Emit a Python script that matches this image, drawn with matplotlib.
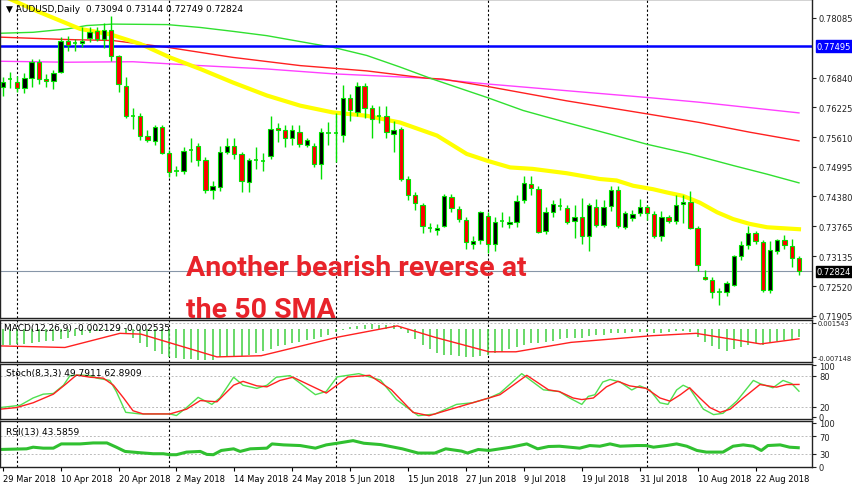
import matplotlib
matplotlib.use("Agg")
import matplotlib.pyplot as plt
import numpy as np

# ---------------- data ----------------
opens = [.7664,.7681,.7676,.7662,.7683,.7716,.7681,.7678,.7695,.7759,.7755,.7755,.7767,.7781,.7764,.7782,.7728,.7667,.7605,.7604,
         .7564,.7553,.7582,.7528,.7490,.7490,.7535,.7543,.7513,.7452,.7457,.7531,.7542,.7525,.7468,.7514,.7511,.7522,.7579,.7575,
         .7558,.7572,.7544,.7543,.7506,.7569,.7569,.7566,.7642,.7612,.7666,.7622,.7604,.7605,.7568,.7578,.7475,.7441,.7421,.7372,
         .7369,.7377,.7437,.7412,.7390,.7340,.7348,.7398,.7339,.7387,.7381,.7385,.7431,.7464,.7454,.7366,.7405,.7419,.7414,.7387,
         .7396,.7356,.7416,.7379,.7419,.7452,.7374,.7394,.7403,.7417,.7402,.7356,.7395,.7388,.7423,.7427,.7372,.7271,.7264,.7239,
         .7239,.7255,.7314,.7337,.7363,.7344,.7243,.7325,.7347,.7336,.73094]
closes = [.7674,.7682,.7662,.7683,.7716,.7681,.7677,.7694,.7759,.7752,.7756,.7761,.7779,.7764,.7782,.7728,.7670,.7605,.7604,.7564,
          .7555,.7582,.7528,.7489,.7490,.7532,.7534,.7514,.7452,.7459,.7531,.7543,.7525,.7470,.7514,.7513,.7512,.7578,.7575,.7558,
          .7575,.7547,.7555,.7506,.7571,.7570,.7569,.7642,.7616,.7667,.7622,.7598,.7603,.7571,.7576,.7475,.7441,.7424,.7377,.7371,
          .7373,.7439,.7414,.7391,.7343,.7345,.7405,.7340,.7385,.7386,.7385,.7428,.7466,.7456,.7365,.7406,.7423,.7420,.7385,.7395,
          .7355,.7420,.7379,.7416,.7452,.7377,.7403,.7401,.7417,.7403,.7356,.7396,.7388,.7420,.7427,.7373,.7296,.7267,.7239,.7239,
          .7258,.7315,.7337,.7363,.7345,.7243,.7327,.7347,.7337,.7311,.72824]
highs = [.7685,.7695,.7688,.7693,.7722,.7722,.7692,.7700,.7768,.7770,.7765,.7790,.7790,.7790,.7798,.7812,.7730,.7685,.7622,.7610,
         .7575,.7585,.7585,.7535,.7500,.7540,.7560,.7548,.7520,.7470,.7542,.7560,.7560,.7530,.7517,.7540,.7528,.7605,.7590,.7585,
         .7585,.7585,.7560,.7548,.7580,.7593,.7610,.7668,.7650,.7675,.7672,.7628,.7625,.7625,.7595,.7582,.7480,.7448,.7425,.7382,
         .7380,.7442,.7442,.7418,.7395,.7355,.7408,.7405,.7395,.7405,.7398,.7440,.7480,.7480,.7460,.7415,.7430,.7435,.7420,.7420,
         .7435,.7425,.7432,.7430,.7460,.7460,.7408,.7410,.7432,.7420,.7408,.7408,.7400,.7440,.7440,.7450,.7377,.7285,.7270,.7248,
         .7262,.7317,.7345,.7377,.7367,.7348,.7345,.7350,.7357,.7350,.73144]
lows = [.7645,.7662,.7655,.7652,.7664,.7670,.7664,.7660,.7693,.7740,.7740,.7748,.7758,.7760,.7745,.7718,.7654,.7600,.7578,.7555,
        .7550,.7545,.7525,.7478,.7480,.7485,.7510,.7500,.7445,.7432,.7450,.7525,.7515,.7447,.7447,.7495,.7490,.7515,.7550,.7540,
        .7545,.7540,.7540,.7498,.7475,.7545,.7510,.7550,.7595,.7605,.7600,.7560,.7590,.7560,.7530,.7470,.7430,.7410,.7362,.7365,
        .7358,.7375,.7405,.7385,.7330,.7330,.7340,.7320,.7325,.7375,.7372,.7375,.7425,.7440,.7362,.7360,.7395,.7410,.7380,.7352,
        .7340,.7325,.7375,.7375,.7408,.7373,.7370,.7388,.7398,.7390,.7352,.7345,.7382,.7380,.7382,.7370,.7283,.7265,.7228,.7212,
        .7232,.7252,.7306,.7330,.7340,.7240,.7238,.7318,.7330,.7292,.72749]

# moving averages sampled at (candle index, price)
sma50_x = [0,1.0,5.2,10.7,14.8,19.0,23.1,27.3,31.8,36.5,41.1,45.6,50.3,54.9,60.0,64.1,66.9,70.1,73.2,77.9,82.5,84.8,87.1,89.8,91.8,94.0,96.3,98.7,100.9,103.2,105.6,110]
sma50_y = [.7856,.7847,.7819,.7785,.7774,.7754,.7726,.7702,.7674,.7647,.7626,.7612,.7605,.7591,.7564,.7526,.7512,.7498,.7495,.7486,.7474,.7471,.7460,.7453,.7446,.7439,.7425,.7405,.7391,.7381,.7374,.7370]
sma100_x = [-0.4,4.2,8.9,11.6,15.2,22.7,27.3,31.8,36.5,42.9,45.6,50.3,54.9,59.4,66.9,71.9,77.9,83.9,89.0,94.9,100.9,105.6,110]
sma100_y = [.7776,.7778,.7785,.7792,.7795,.7794,.7788,.7780,.7771,.7754,.7747,.7730,.7706,.7681,.7643,.7616,.7591,.7567,.7546,.7526,.7502,.7484,.7466]
sma200_x = [-0.4,8.9,15.2,22.7,31.8,41.1,50.3,58.5,60.8,66.9,77.9,89.0,96.3,103.2,110]
sma200_y = [.7768,.7763,.7761,.7747,.7726,.7709,.7698,.7683,.7681,.7666,.7636,.7609,.7591,.7571,.7553]
sma_m_x = [-0.4,8.9,18.0,27.3,36.5,45.6,58.5,66.9,77.9,89.0,96.3,110]
sma_m_y = [.7718,.7716,.7717,.7709,.7702,.7692,.7683,.7671,.7657,.7643,.7633,.7611]

price_ticks = [0.78085, 0.76840, 0.76225, 0.75610, 0.74995, 0.74380, 0.73765, 0.73135, 0.72520, 0.71905]
resistance = 0.77495
last_price = 0.72824

macd_hist = [-.0040,-.0040,-.0039,-.0038,-.0036,-.0034,-.0031,-.0030,-.0026,-.0022,
             -.0018,-.0014,-.0010,-.0006,-.0003,-.0002,-.0004,-.0010,
             -.0022,-.0035,-.0045,-.0055,-.0063,-.0070,-.0074,-.0076,-.0077,-.0078,
             -.0080,-.0078,-.0072,-.0070,-.0068,-.0068,-.0065,-.0060,-.0056,-.0050,
             -.0044,-.0040,-.0036,-.0032,-.0028,-.0025,-.0020,-.0014,-.0008,-.0002,
             .0004,.0008,.0010,.0012,.0011,.0010,.0009,.0006,
             -.0010,-.0025,-.0040,-.0052,-.0060,-.0065,-.0066,-.0068,-.0072,-.0070,
             -.0068,-.0066,-.0062,-.0058,-.0052,-.0046,-.0040,-.0036,-.0036,-.0034,
             -.0030,-.0026,-.0024,-.0022,-.0022,-.0018,-.0016,-.0014,-.0010,-.0010,
             -.0009,-.0008,-.0008,-.0008,-.0010,-.0010,-.0008,-.0006,-.0005,-.0008,
             -.0020,-.0032,-.0044,-.0052,-.0056,-.0052,-.0046,-.0040,-.0036,-.0040,
             -.0036,-.0030,-.0028,-.0028,-.0021]
macd_sig_x = [-0.4,8.6,16.2,19.1,29.6,35.7,46.2,54.5,59.7,67.2,70.9,78.5,89.7,95.8,104.7,110]
macd_sig_y = [-.0043,-.0047,-.0011,-.0013,-.0071,-.0068,-.0021,.0008,-.0021,-.0058,-.0058,-.0034,-.0017,-.0011,-.0038,-.0025]

stk_x = [-0.4,2.4,4.2,5.6,7.0,8.4,9.3,10.7,12.1,13.0,14.8,15.7,17.0,19.0,21.3,23.1,24.0,25.4,27.0,28.9,30.0,31.9,33.2,35.1,36.5,37.8,39.7,
         43.2,44.7,46.2,49.2,52.2,54.4,57.4,59.7,62.7,64.9,67.2,68.7,71.7,74.7,
         76.9,78.3,80.0,80.9,81.8,82.9,83.9,85.3,86.9,88.0,89.4,90.8,91.9,93.1,94.0,94.9,96.8,98.2,99.5,101.4,103.7,104.6,106.4,107.8,109.0,110]
stk_y = [18.1,22.5,36.7,44.1,45.4,61.4,80,81.2,80,75.1,70.7,49.1,8.9,5.8,5.8,5.8,2.7,18.1,37.9,24.3,36.7,76.9,61.4,55.3,61.4,76.9,80,
         43.1,49.4,77.5,83.8,71.2,33.7,2.4,5.6,24.3,27.5,36.8,46.2,83.8,52.5,
         49.1,36.7,24.3,39.8,42.9,67.6,72.6,67.6,52.2,60.2,52.2,27.4,24.3,52.2,61.4,55.3,15.0,4.5,7.0,30.5,70.7,64.5,56.5,70.7,64.5,49.8]
std_x = [-0.4,1.9,4.2,7.0,8.8,10.2,12.1,13.9,15.3,16.7,18.0,19.4,23.1,25.4,27.3,29.6,31.9,33.2,35.1,36.5,38.3,40.1,
         44.7,47.7,50.7,53.7,56.7,58.9,61.9,65.7,68.7,72.4,75.4,
         76.9,78.8,80.0,81.6,83.4,85.0,86.6,88.9,90.8,92.2,93.6,94.9,96.3,97.7,99.1,100.5,102.3,104.6,106.9,108.3,110]
std_y = [15.0,18.1,27.4,44.1,64.5,81.2,76.9,75.1,61.4,36.7,12.0,5.8,5.8,15.0,31.7,29.3,61.4,68.9,60.2,58.3,70.7,76.9,
         46.2,77.5,80.6,52.5,8.7,2.4,15.0,30.6,43.1,80.6,52.5,
         49.1,36.7,33.6,36.7,58.3,68.9,60.2,55.3,36.7,30.5,42.9,56.5,36.7,18.1,8.9,15.0,36.7,62.7,57.7,62.7,62.9]

rsi_x = [-0.4,3.3,4.2,5.6,7.0,8.1,10.7,12.5,14.4,15.7,16.9,19.0,20.8,22.2,23.1,24.0,25.4,27.3,28.2,29.1,30.2,31.9,32.8,34.2,36.5,37.2,38.8,
         41.1,43.2,44.7,46.2,48.4,49.9,52.2,55.2,57.4,59.7,61.2,63.4,64.2,65.7,67.2,70.2,72.4,73.9,75.4,
         76.9,79.7,81.1,82.5,83.9,85.3,87.6,88.9,89.9,91.7,93.1,94.5,95.9,97.2,99.5,100.9,102.3,103.7,104.8,105.7,107.4,108.7,109.9]
rsi_y = [39.6,41.1,44.8,42.6,42.6,52.2,52.2,54.4,54.4,44.8,35.2,32.2,30.0,30.0,27.8,27.8,33.7,35.2,28.5,27.8,37.4,41.1,35.2,41.1,42.6,52.2,50.0,
         48.5,42.6,50.0,53.7,59.6,53.7,50.7,41.1,31.5,31.5,41.1,35.9,31.5,39.6,37.4,44.8,52.2,41.1,46.3,
         47.0,42.6,48.5,47.0,52.2,47.0,48.5,48.5,44.8,48.5,52.2,47.0,37.4,33.7,33.7,47.0,50.0,47.0,37.4,48.5,50.0,44.8,43.6]

date_labels = ["29 Mar 2018", "10 Apr 2018", "20 Apr 2018", "2 May 2018", "14 May 2018", "24 May 2018", "5 Jun 2018",
               "15 Jun 2018", "27 Jun 2018", "9 Jul 2018", "19 Jul 2018", "31 Jul 2018", "10 Aug 2018", "22 Aug 2018"]
month_starts = [2, 23, 46, 67, 89]

# ---------------- layout ----------------
W, H = 852, 485
fig = plt.figure(figsize=(W / 100, H / 100), dpi=100)
fig.patch.set_facecolor('white')
SMALL = 6

def panel(top, bottom):
    return fig.add_axes([0, 1 - bottom / H, 812 / W, (bottom - top) / H])

ax = panel(0, 319)
ax_macd = panel(321, 363)
ax_st = panel(365, 420)
ax_rsi = panel(422, 468)

XMIN, XMAX = -0.37, 111.8
LIME = '#00e000'
for a in (ax, ax_macd, ax_st, ax_rsi):
    a.set_xlim(XMIN, XMAX)
    a.set_facecolor('white')
    for s in a.spines.values():
        s.set_color('#222222')
        s.set_linewidth(1.0)
    a.yaxis.tick_right()
    a.tick_params(axis='y', labelsize=SMALL, length=3, pad=2, colors='#222222')
    a.tick_params(axis='x', length=0, labelbottom=False)
    for m in month_starts:
        a.axvline(m, color='black', linestyle=(0, (2, 2)), linewidth=0.8, zorder=1)

# ---------------- main price panel ----------------
ax.set_ylim(0.7186, 0.7847)
idx = np.arange(len(opens))
ax.plot(sma_m_x, sma_m_y, color='#ff40ff', linewidth=1, zorder=2)
ax.plot(sma200_x, sma200_y, color='#ff2020', linewidth=1, zorder=2)
ax.plot(sma100_x, sma100_y, color='#30e030', linewidth=1, zorder=2)
ax.plot(sma50_x, sma50_y, color='#ffff00', linewidth=3, zorder=2)
ax.axhline(resistance, color='#0000ff', linewidth=1.8, zorder=2)
ax.axhline(last_price, color='#8796a8', linewidth=0.8, zorder=2)

ax.vlines(idx, lows, highs, color=LIME, linewidth=1, zorder=3)
for i, o, c in zip(idx, opens, closes):
    if abs(c - o) < 0.00015:
        ax.hlines(o, i - 0.3, i + 0.3, color=LIME, linewidth=1.2, zorder=4)
    else:
        ax.bar(i, c - o, bottom=o, width=0.6, color='black' if c > o else '#ff0000',
               edgecolor=LIME, linewidth=0.8, zorder=4)

ax.set_yticks(price_ticks)
ax.set_yticklabels([f"{v:.5f}" for v in price_ticks])
for val, bg in ((resistance, '#0000ff'), (last_price, 'black')):
    ax.text(1.006, val, f"{val:.5f}", transform=ax.get_yaxis_transform(), fontsize=SMALL,
            color='white', va='center', ha='left',
            bbox=dict(boxstyle='square,pad=0.15', fc=bg, ec=bg))

ax.text(0.008, 0.985, "\u25bc AUDUSD,Daily  0.73094 0.73144 0.72749 0.72824", transform=ax.transAxes,
        fontsize=6.5, va='top', ha='left', color='black')
red = '#e8232a'
ax.text(186 / 812, 1 - 276 / 319, "Another bearish reverse at", transform=ax.transAxes,
        fontsize=20.5, fontweight='bold', color=red, family='Roboto', va='baseline', ha='left', zorder=6)
ax.text(186 / 812, 1 - 318 / 319, "the 50 SMA", transform=ax.transAxes,
        fontsize=20.5, fontweight='bold', color=red, family='Roboto', va='baseline', ha='left', zorder=6)

# ---------------- MACD ----------------
ax_macd.set_ylim(-0.0084, 0.0023)
ax_macd.vlines(idx, 0, macd_hist, color='#40d040', linewidth=1.1)
ax_macd.plot(macd_sig_x, macd_sig_y, color='#ff2020', linewidth=1)
ax_macd.axhline(0.001543, color='#bbbbbb', linestyle=(0, (2, 2)), linewidth=0.7)
ax_macd.set_yticks([0.001543, -0.007148])
ax_macd.set_yticklabels(["0.001543", "-0.007148"])
ax_macd.tick_params(axis='y', labelsize=4.8, pad=1)
ax_macd.text(0.005, 0.82, "MACD(12,26,9) -0.002129 -0.002535", transform=ax_macd.transAxes, fontsize=6.5, va='center')

# ---------------- Stochastic ----------------
ax_st.set_ylim(-4, 102.5)
for lv in (80, 20):
    ax_st.axhline(lv, color='#bbbbbb', linestyle=(0, (2, 2)), linewidth=0.7)
ax_st.plot(stk_x, stk_y, color='#50e050', linewidth=1)
ax_st.plot(std_x, std_y, color='#ff2020', linewidth=1)
ax_st.set_yticks([100, 80, 20, 0])
ax_st.text(0.007, 0.85, "Stoch(8,3,3) 49.7911 62.8909", transform=ax_st.transAxes, fontsize=6.5, va='center')

# ---------------- RSI ----------------
ax_rsi.set_ylim(0, 104)
for lv in (70, 30):
    ax_rsi.axhline(lv, color='#bbbbbb', linestyle=(0, (2, 2)), linewidth=0.7)
ax_rsi.plot(rsi_x, rsi_y, color='#30c030', linewidth=2.2)
ax_rsi.set_yticks([100, 70, 30, 0])
ax_rsi.text(0.007, 0.78, "RSI(13) 43.5859", transform=ax_rsi.transAxes, fontsize=6.5, va='center')

label_pos = np.arange(len(date_labels)) * 8
ax_rsi.set_xticks(label_pos)
ax_rsi.set_xticklabels(date_labels)
ax_rsi.tick_params(axis='x', labelbottom=True, labelsize=SMALL, length=3, pad=2)
for t in ax_rsi.get_xticklabels():
    t.set_ha('left')

fig.savefig('out.png', dpi=100)
